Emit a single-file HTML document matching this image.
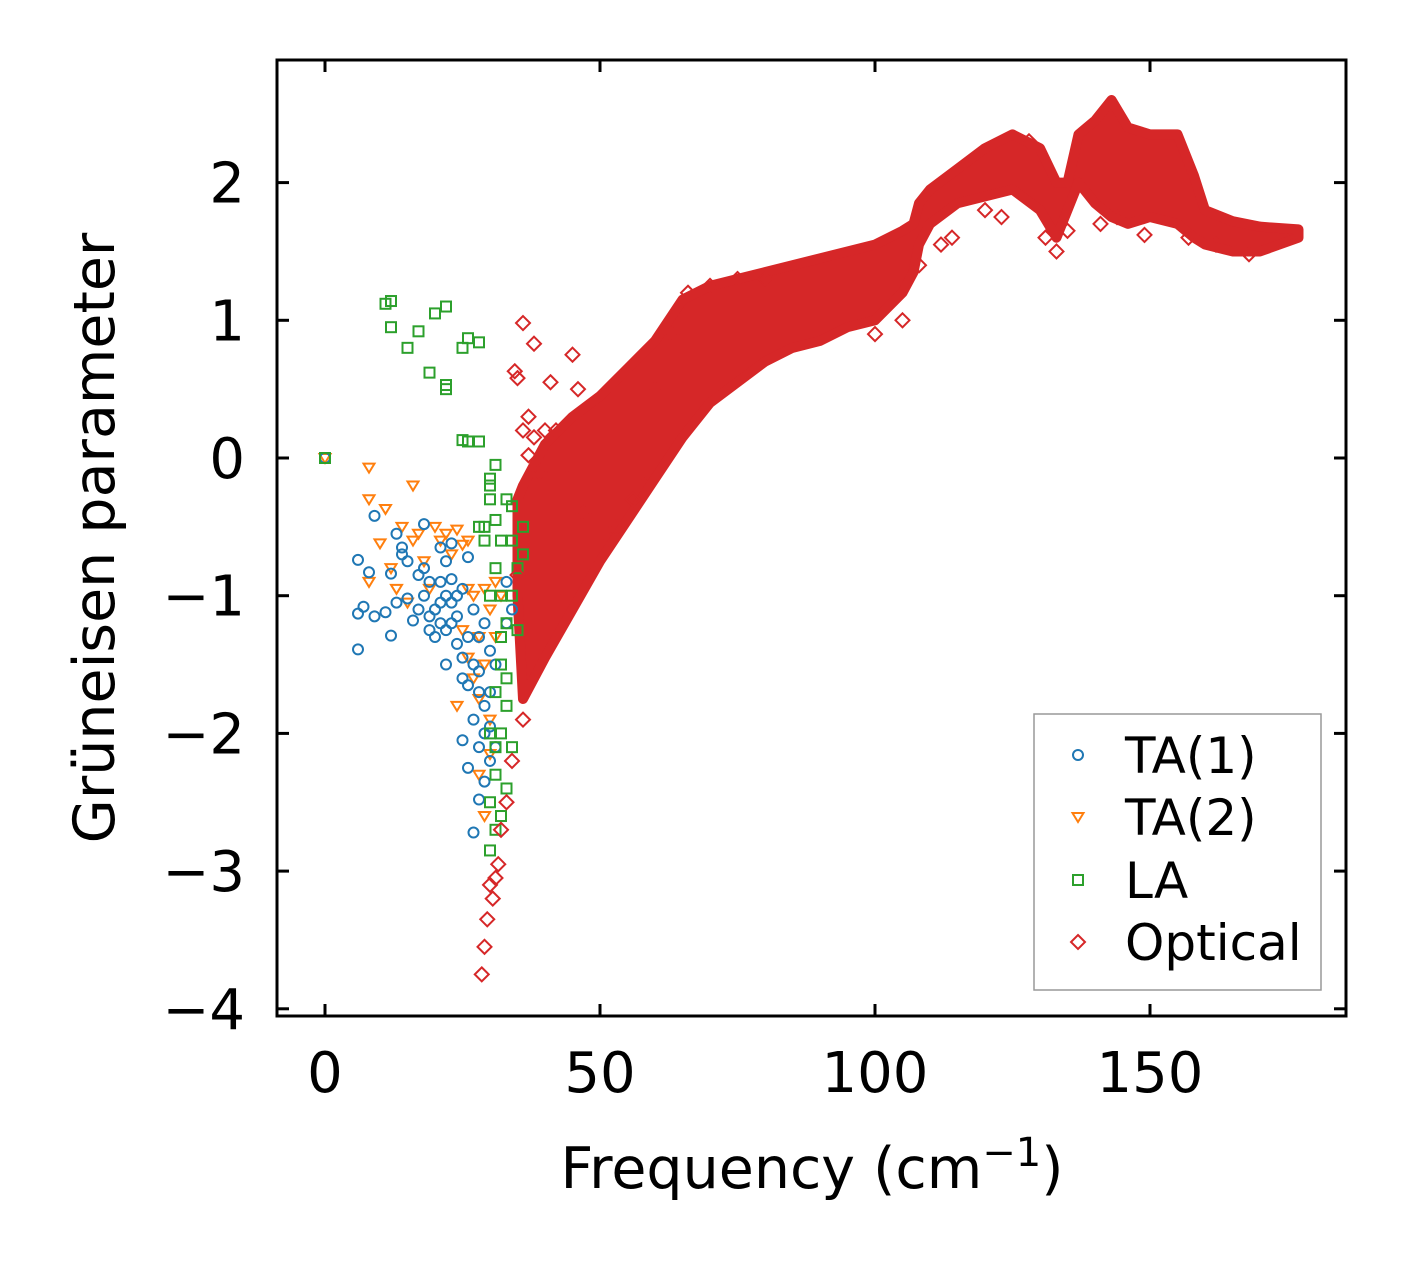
<!DOCTYPE html>
<html><head><meta charset="utf-8"><style>
body{margin:0;background:#fff}
svg text{font-family:"DejaVu Sans","Liberation Sans",sans-serif;fill:#000}
</style></head><body>
<svg id="chart" width="1406" height="1264" xmlns="http://www.w3.org/2000/svg">
<rect width="1406" height="1264" fill="#fff"/>
<g id="marks"></g>
<g id="axes"></g>
</svg>
<script>
const xTicks=[0,50,100,150];
const yTicks=[2,1,0,-1,-2,-3,-4];
const yTickLabels=["2","1","0","\u22121","\u22122","\u22123","\u22124"];
const bandFreq=[35,36,40,45,50,55,60,65,70,75,80,85,90,95,100,105,107,108,110,115,120,125,130,133,135,137,140,143,146,150,155,158,160,165,170,177];
const bandLow=[-1.0,-1.75,-1.45,-1.1,-0.75,-0.45,-0.15,0.15,0.4,0.55,0.7,0.8,0.85,0.95,1.0,1.2,1.35,1.55,1.7,1.85,1.9,1.95,1.8,1.6,1.8,2.0,1.85,1.75,1.7,1.75,1.7,1.6,1.55,1.5,1.5,1.6];
const bandHigh=[-0.3,-0.2,0.1,0.3,0.45,0.65,0.85,1.15,1.25,1.3,1.35,1.4,1.45,1.5,1.55,1.65,1.7,1.85,1.95,2.1,2.25,2.35,2.25,2.0,2.0,2.35,2.45,2.6,2.4,2.35,2.35,2.05,1.8,1.72,1.68,1.66];
const optX=[36,38,34.5,35,41,45,46,37,36,38,40,37,42,35,36,34,33,32,31.5,30,30.5,29.5,29,28.5,31,48,52,56,60,63,66,70,75,80,100,105,108,112,114,120,123,131,133,135,141,144,149,157,162,168,176,128,39,44,47,53,58];
const optY=[0.98,0.83,0.63,0.58,0.55,0.75,0.5,0.3,0.2,0.15,0.2,0.02,0.2,-0.85,-1.9,-2.2,-2.5,-2.7,-2.95,-3.1,-3.2,-3.35,-3.55,-3.75,-3.05,-0.75,-0.6,-0.3,0.5,0.9,1.2,1.25,1.3,1.3,0.9,1.0,1.4,1.55,1.6,1.8,1.75,1.6,1.5,1.65,1.7,1.75,1.62,1.6,1.55,1.48,1.63,2.3,-0.1,-0.15,-0.4,-0.5,-0.2];
const ta1X=[0,6,6,6,7,8,9,9,11,12,12,13,13,14,14,15,15,16,17,18,18,19,19,20,21,21,22,22,23,23,24,24,25,25,25,26,26,26,27,27,27,28,28,28,29,29,29,30,30,31,31,33,33,34,20,21,22,23,24,18,17,19,22,26,27,28,29,30,30,28,25,23,21];
const ta1Y=[0,-0.74,-1.13,-1.39,-1.08,-0.83,-0.42,-1.15,-1.12,-1.29,-0.84,-0.55,-1.05,-0.65,-0.7,-1.02,-0.75,-1.18,-1.1,-0.48,-0.8,-0.9,-1.25,-1.3,-0.65,-1.05,-1.5,-0.75,-0.62,-1.2,-1.35,-1.0,-0.95,-1.6,-2.05,-0.72,-1.65,-2.25,-1.1,-1.9,-2.72,-1.3,-1.55,-2.1,-1.8,-2.0,-2.35,-1.4,-1.95,-1.5,-2.1,-1.2,-0.9,-1.1,-1.1,-0.9,-1.0,-1.05,-1.15,-1.0,-0.85,-1.15,-1.25,-1.3,-1.5,-1.7,-1.2,-1.7,-2.2,-2.48,-1.45,-0.88,-1.2];
const ta2X=[0,8,8,8,10,11,12,14,16,16,17,18,20,21,22,24,25,26,26,27,28,28,29,30,30,31,31,32,29,26,24,27,29,30,28,25,23,19,15,13];
const ta2Y=[0,-0.07,-0.3,-0.9,-0.62,-0.37,-0.8,-0.5,-0.2,-0.6,-0.55,-0.75,-0.5,-0.6,-0.55,-0.52,-0.63,-0.95,-1.45,-1.0,-1.3,-1.75,-0.95,-1.1,-2.15,-0.9,-1.3,-1.0,-2.6,-0.6,-1.8,-1.6,-1.5,-1.9,-2.3,-1.25,-0.7,-0.95,-1.05,-0.95];
const laX=[0,11,12,12,15,17,19,20,22,22,22,25,26,28,26,25,28,31,30,30,29,31,32,33,34,36,36,31,32,33,32,33,34,31,30,31,30,32,33,30,31,32,34,35,29,30,31,32,33,34,35,28,30];
const laY=[0,1.12,1.14,0.95,0.8,0.92,0.62,1.05,1.1,0.5,0.53,0.8,0.87,0.84,0.12,0.13,0.12,-0.05,-0.15,-0.3,-0.5,-0.45,-0.6,-0.3,-0.6,-0.5,-0.7,-0.8,-1.0,-1.2,-1.5,-1.8,-2.1,-2.3,-2.5,-2.7,-2.85,-2.6,-2.4,-2.0,-1.7,-1.3,-1.0,-0.8,-0.6,-1.0,-2.1,-2.0,-1.6,-0.35,-1.25,-0.5,-0.2];

const L=277,R=1346,T=60,B=1016;
const sx=v=>325+v*5.5;
const sy=v=>458-v*137.7;
const NS="http://www.w3.org/2000/svg";
const marks=document.getElementById('marks'),axes=document.getElementById('axes');
function mk(tag,attrs,parent){const e=document.createElementNS(NS,tag);for(const k in attrs)e.setAttribute(k,attrs[k]);parent.appendChild(e);return e;}
const RED="#d62728",BLUE="#1f77b4",ORANGE="#ff7f0e",GREEN="#2ca02c";
let pts=[];
for(let i=0;i<bandFreq.length;i++)pts.push(sx(bandFreq[i])+","+sy(bandHigh[i]));
for(let i=bandFreq.length-1;i>=0;i--)pts.push(sx(bandFreq[i])+","+sy(bandLow[i]));
const band=mk('polygon',{points:pts.join(' '),fill:RED,stroke:RED,'stroke-width':10,'stroke-linejoin':'round'},marks);


function diamond(x,y){return mk('polygon',{points:`${x},${y-7} ${x+7},${y} ${x},${y+7} ${x-7},${y}`,fill:'none',stroke:RED,'stroke-width':2},marks);}
function circle(x,y){return mk('circle',{cx:x,cy:y,r:5,fill:'none',stroke:BLUE,'stroke-width':2},marks);}
function tri(x,y){return mk('polygon',{points:`${x-5.5},${y-4} ${x+5.5},${y-4} ${x},${y+5}`,fill:'none',stroke:ORANGE,'stroke-width':2},marks);}
function sq(x,y){return mk('rect',{x:x-5,y:y-5,width:10,height:10,fill:'none',stroke:GREEN,'stroke-width':2},marks);}
for(let i=0;i<ta2X.length;i++){const e=tri(sx(ta2X[i]),sy(ta2Y[i]));

}
for(let i=0;i<ta1X.length;i++){const e=circle(sx(ta1X[i]),sy(ta1Y[i]));

}
for(let i=0;i<laX.length;i++){const e=sq(sx(laX[i]),sy(laY[i]));

}
for(let i=0;i<optX.length;i++){const e=diamond(sx(optX[i]),sy(optY[i]));

}
const fr=mk('rect',{x:L,y:T,width:R-L,height:B-T,fill:'none',stroke:'#000','stroke-width':3},axes);


xTicks.forEach(v=>{const x=sx(v);
mk('line',{x1:x,y1:B,x2:x,y2:B-12,stroke:'#000','stroke-width':3},axes);
mk('line',{x1:x,y1:T,x2:x,y2:T+12,stroke:'#000','stroke-width':3},axes);
const t=mk('text',{x:x,y:B+76,'text-anchor':'middle','font-size':56},axes);t.textContent=v;

});
yTicks.forEach((v,i)=>{const y=sy(v);
mk('line',{x1:L,y1:y,x2:L+12,y2:y,stroke:'#000','stroke-width':3},axes);
mk('line',{x1:R,y1:y,x2:R-12,y2:y,stroke:'#000','stroke-width':3},axes);
const t=mk('text',{x:L-32,y:y+20,'text-anchor':'end','font-size':56},axes);t.textContent=yTickLabels[i];

});
</script>
<svg width="1406" height="1264" style="position:absolute;left:0;top:0" xmlns="http://www.w3.org/2000/svg">
<text x="812" y="1188" text-anchor="middle" font-size="57">Frequency (cm<tspan dy="-22" font-size="40">−1</tspan><tspan dy="22">)</tspan></text>
<text transform="translate(114,538) rotate(-90)" text-anchor="middle" font-size="57">Grüneisen parameter</text>
<g>
<rect x="1034" y="714" width="287" height="276" fill="#fff" stroke="#999" stroke-width="1.5"/>
<g><circle cx="1078" cy="755" r="5" fill="none" stroke="#1f77b4" stroke-width="2"/><text x="1125" y="773" font-size="50">TA(1)</text></g>
<g><polygon points="1072.5,813 1083.5,813 1078,822" fill="none" stroke="#ff7f0e" stroke-width="2"/><text x="1125" y="835" font-size="50">TA(2)</text></g>
<g><rect x="1073" y="875" width="10" height="10" fill="none" stroke="#2ca02c" stroke-width="2"/><text x="1125" y="898" font-size="50">LA</text></g>
<g><polygon points="1078,935 1085,942 1078,949 1071,942" fill="none" stroke="#d62728" stroke-width="2"/><text x="1125" y="960" font-size="50">Optical</text></g>
</g>
</svg>
</body></html>
